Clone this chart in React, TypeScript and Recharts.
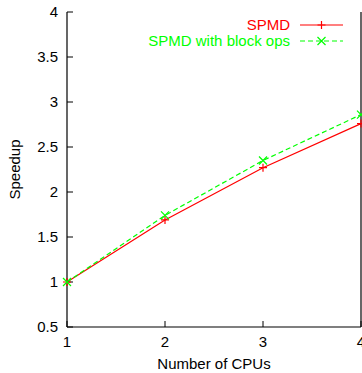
import React from 'react';
import { LineChart, Line, XAxis, YAxis } from 'recharts';

const cpus = [1, 2, 3, 4];
const spmd = [1, 1.69, 2.27, 2.76];
const spmdBlock = [1, 1.74, 2.35, 2.86];
const xTicks = [1, 2, 3, 4];
const yTicks = [0.5, 1, 1.5, 2, 2.5, 3, 3.5, 4];
const seriesNames = ['SPMD', 'SPMD with block ops'];

const data = cpus.map((c, i) => ({ cpus: c, spmd: spmd[i], block: spmdBlock[i] }));

const FONT = '"Liberation Sans", Arial, sans-serif';
const RED = '#ff0000';
const GREEN = '#00ff00';

const PlusDot = (props: any) => {
  const { cx, cy, index } = props;
  if (cx == null || cy == null) return null;
  return (
    <path key={`p-${index}`} d={`M${cx - 4},${cy}H${cx + 4}M${cx},${cy - 4}V${cy + 4}`} stroke={RED} strokeWidth={1.2} fill="none" />
  );
};

const CrossDot = (props: any) => {
  const { cx, cy, index } = props;
  if (cx == null || cy == null) return null;
  return (
    <path key={`x-${index}`} d={`M${cx - 4},${cy - 4}L${cx + 4},${cy + 4}M${cx - 4},${cy + 4}L${cx + 4},${cy - 4}`} stroke={GREEN} strokeWidth={1.2} fill="none" />
  );
};

// gnuplot-style key in the top right corner
const KeyBox = () => {
  const colors = [RED, GREEN];
  return (
    <svg width={362} height={60} style={{ position: 'absolute', left: 0, top: 0, pointerEvents: 'none' }}>
      {seriesNames.map((name, i) => {
        const y = 25 + i * 16;
        const dashed = i === 1;
        return (
          <g key={name}>
            <text x={290} y={y} dy="0.35em" textAnchor="end" fill={colors[i]} fontSize={15} fontFamily={FONT}>
              {name}
            </text>
            <line x1={300} x2={343} y1={y} y2={y} stroke={colors[i]} strokeWidth={1.2} strokeDasharray={dashed ? '5 3' : undefined} />
            {dashed ? (
              <path d={`M317.5,${y - 4}L325.5,${y + 4}M317.5,${y + 4}L325.5,${y - 4}`} stroke={colors[i]} strokeWidth={1.2} />
            ) : (
              <path d={`M317.5,${y}H325.5M321.5,${y - 4}V${y + 4}`} stroke={colors[i]} strokeWidth={1.2} />
            )}
          </g>
        );
      })}
    </svg>
  );
};

export default function App() {
  const tickStyle = { fill: '#000', fontSize: 15, fontFamily: FONT };
  return (
    <div style={{ position: 'absolute', left: 0, top: 0, width: 362, height: 373, background: '#fff' }}>
      <LineChart width={362} height={373} data={data} margin={{ top: 12, right: 0, bottom: 0, left: 0 }}>
        <XAxis
          xAxisId="bottom"
          dataKey="cpus"
          type="number"
          domain={[1, 4]}
          ticks={xTicks}
          height={46}
          tickSize={-6}
          tickMargin={15}
          tick={tickStyle}
          axisLine={{ stroke: '#000', strokeWidth: 1.2 }}
          tickLine={{ stroke: '#000' }}
          interval={0}
          label={{ value: 'Number of CPUs', position: 'insideBottom', offset: 4, fill: '#000', fontSize: 15, fontFamily: FONT }}
        />
        <XAxis
          xAxisId="top"
          orientation="top"
          dataKey="cpus"
          type="number"
          domain={[1, 4]}
          ticks={xTicks}
          height={0}
          tickSize={-6}
          tickFormatter={() => ''}
          axisLine={{ stroke: '#000', strokeWidth: 1.2 }}
          tickLine={{ stroke: '#000' }}
          interval={0}
        />
        <YAxis
          yAxisId="left"
          type="number"
          domain={[0.5, 4]}
          ticks={yTicks}
          width={67}
          tickSize={-6}
          tickMargin={15}
          tick={tickStyle}
          axisLine={{ stroke: '#000', strokeWidth: 1.2 }}
          tickLine={{ stroke: '#000' }}
          interval={0}
          label={{ value: 'Speedup', angle: -90, position: 'insideLeft', offset: 15, fill: '#000', fontSize: 15, fontFamily: FONT, style: { textAnchor: 'middle' } }}
        />
        <YAxis
          yAxisId="right"
          orientation="right"
          type="number"
          domain={[0.5, 4]}
          ticks={yTicks}
          width={1}
          tickSize={-6}
          tickFormatter={() => ''}
          axisLine={{ stroke: '#000', strokeWidth: 1.2 }}
          tickLine={{ stroke: '#000' }}
          interval={0}
        />
        <Line
          xAxisId="bottom"
          yAxisId="left"
          dataKey="spmd"
          name={seriesNames[0]}
          stroke={RED}
          strokeWidth={1.2}
          dot={PlusDot}
          activeDot={false}
          isAnimationActive={false}
        />
        <Line
          xAxisId="bottom"
          yAxisId="left"
          dataKey="block"
          name={seriesNames[1]}
          stroke={GREEN}
          strokeWidth={1.2}
          strokeDasharray="5 3"
          dot={CrossDot}
          activeDot={false}
          isAnimationActive={false}
        />
      </LineChart>
      <KeyBox />
    </div>
  );
}
